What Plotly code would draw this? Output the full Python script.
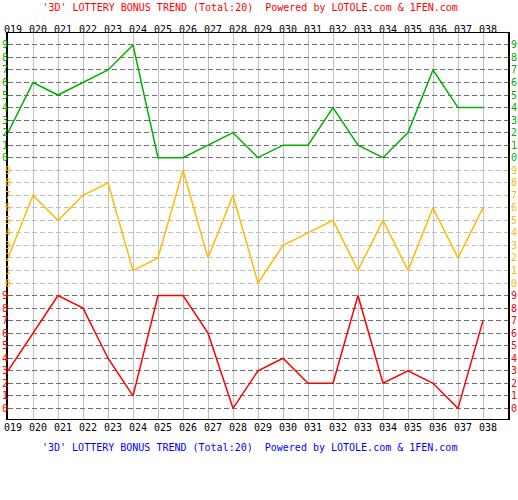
import plotly.graph_objects as go

periods = ["019", "020", "021", "022", "023", "024", "025", "026", "027", "028",
           "029", "030", "031", "032", "033", "034", "035", "036", "037", "038"]
green_vals = [2, 6, 5, 6, 7, 9, 0, 0, 1, 2, 0, 1, 1, 4, 1, 0, 2, 7, 4, 4]
orange_vals = [2, 7, 5, 7, 8, 1, 2, 9, 2, 7, 0, 3, 4, 5, 1, 5, 1, 6, 2, 6]
red_vals = [3, 6, 9, 8, 4, 1, 9, 9, 6, 0, 3, 4, 2, 2, 9, 2, 3, 2, 0, 7]
digits = list(range(10))

GREEN = "#00b000"
ORANGE = "#ffbb00"
RED = "#ff0000"
FONT = "DejaVu Sans Mono"

xs = list(range(len(periods)))
RED_OFF, ORANGE_OFF, GREEN_OFF = 0, 10, 20

fig = go.Figure()
fig.add_trace(go.Scatter(x=xs, y=[v + GREEN_OFF for v in green_vals], mode="lines",
                         line=dict(color=GREEN, width=1.5), xaxis="x", yaxis="y",
                         hoverinfo="skip"))
fig.add_trace(go.Scatter(x=xs, y=[v + ORANGE_OFF for v in orange_vals], mode="lines",
                         line=dict(color=ORANGE, width=1.5), xaxis="x", yaxis="y3",
                         hoverinfo="skip"))
fig.add_trace(go.Scatter(x=xs, y=[v + RED_OFF for v in red_vals], mode="lines",
                         line=dict(color=RED, width=1.5), xaxis="x2", yaxis="y2",
                         hoverinfo="skip"))


def lab(d, c):
    return f"<span style='color:{c}'>{d}</span>"


dark_vals = [d + RED_OFF for d in digits] + [d + GREEN_OFF for d in digits]
dark_text = [lab(d, RED) for d in digits] + [lab(d, GREEN) for d in digits]
light_vals = [d + ORANGE_OFF for d in digits]
light_text = [lab(d, ORANGE) for d in digits]
all_vals = dark_vals[:10] + light_vals + dark_vals[10:]
all_text = dark_text[:10] + light_text + dark_text[10:]

yr = [-0.85, 29.95]
xr = [0, 20]
tickfont = dict(family=FONT, size=10, color="#000000")
TITLE = "'3D' LOTTERY BONUS TREND (Total:20)  Powered by LOTOLE.com & 1FEN.com"

fig.update_layout(
    width=518, height=500,
    margin=dict(l=8, r=10, t=33, b=81, autoexpand=False),
    paper_bgcolor="white", plot_bgcolor="white",
    showlegend=False,
    title=dict(text=TITLE,
               font=dict(family=FONT, size=10, color=RED),
               x=0.483, xanchor="center", y=0.986, yanchor="middle"),
    xaxis=dict(range=xr, tickvals=xs, ticktext=periods, side="bottom",
               showgrid=True, gridcolor="#c0c0c0", gridwidth=1,
               showline=True, linecolor="black", linewidth=1, mirror=False,
               ticks="", ticklabelshift=5, ticklabelstandoff=-1, automargin=False,
               tickfont=tickfont, zeroline=False, fixedrange=True),
    xaxis2=dict(range=xr, tickvals=xs, ticktext=periods, side="top",
                overlaying="x", showgrid=False, automargin=False,
                showline=True, linecolor="black", linewidth=1,
                ticks="", ticklabelshift=5, ticklabelstandoff=-5,
                tickfont=tickfont, zeroline=False),
    yaxis=dict(range=yr, tickvals=dark_vals, ticktext=dark_text, side="left",
               showgrid=True, gridcolor="#707070", gridwidth=1, griddash="5px,3px",
               showline=True, linecolor="black", linewidth=2, automargin=False,
               ticks="", ticklabelstandoff=-4, tickfont=tickfont, zeroline=False),
    yaxis3=dict(range=yr, tickvals=light_vals, ticktext=light_text, side="left",
                overlaying="y", showgrid=True, gridcolor="#c0c0c0", gridwidth=1,
                griddash="5px,3px", showline=False, automargin=False,
                ticks="", ticklabelstandoff=-4, tickfont=tickfont, zeroline=False),
    yaxis2=dict(range=yr, tickvals=all_vals, ticktext=all_text, side="right",
                overlaying="y", showgrid=False, automargin=False,
                showline=True, linecolor="black", linewidth=2,
                ticks="", ticklabelstandoff=-1, tickfont=tickfont, zeroline=False),
    annotations=[dict(text=TITLE,
                      xref="paper", yref="paper", x=0.483, y=-0.075,
                      xanchor="center", yanchor="middle", showarrow=False,
                      font=dict(family=FONT, size=10, color="#0000ff"))],
)

fig.write_html("out.html", config={"displayModeBar": False},
               post_script="document.body.style.margin='0';")
